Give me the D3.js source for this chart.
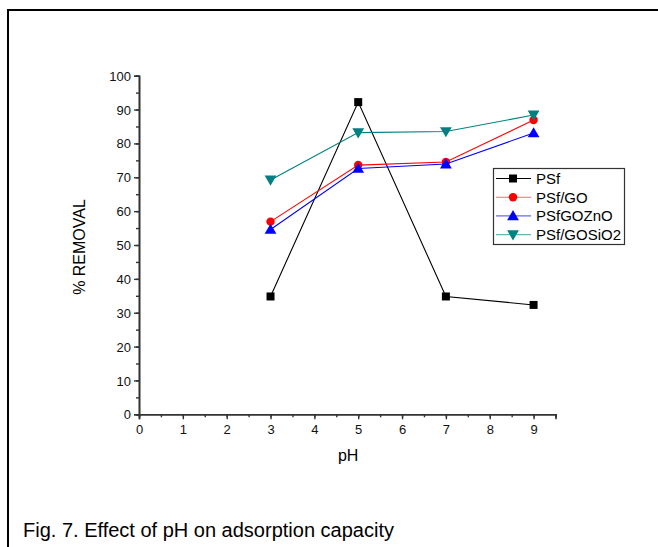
<!DOCTYPE html>
<html>
<head>
<meta charset="utf-8">
<script src="https://cdn.jsdelivr.net/npm/d3@7"></script>
<style>
  body { margin: 0; background: #fff; }
  svg text { font-family: "Liberation Sans", Arial, sans-serif; }
</style>
</head>
<body>
<div id="chart"></div>
<script>
var phValues = [3, 5, 7, 9];
var seriesNames = ["PSf", "PSf/GO", "PSfGOZnO", "PSf/GOSiO2"];
var psf = [34.8, 92.2, 34.8, 32.3];
var psfGO = [56.9, 73.6, 74.5, 86.9];
var psfGOZnO = [54.6, 72.6, 73.9, 83.1];
var psfGOSiO2 = [69.2, 83.2, 83.5, 88.4];
var xTicks = [0, 1, 2, 3, 4, 5, 6, 7, 8, 9];
var yTicks = [0, 10, 20, 30, 40, 50, 60, 70, 80, 90, 100];

var colors = ["#000000", "#ff0000", "#0000ff", "#008080"];
var symbols = [d3.symbolSquare, d3.symbolCircle, d3.symbolTriangle, "down"];

var series = seriesNames.map(function (name, i) {
  var vals = [psf, psfGO, psfGOZnO, psfGOSiO2][i];
  return {
    name: name,
    color: colors[i],
    symbol: symbols[i],
    points: phValues.map(function (p, j) { return { x: p, y: vals[j] }; })
  };
});

var W = 658, H = 547;
var svg = d3.select("#chart").append("svg")
  .attr("width", W).attr("height", H);

// page frame (open at right and bottom like the source)
svg.append("path")
  .attr("d", "M8," + H + " V10 H" + W)
  .attr("fill", "none")
  .attr("stroke", "#000")
  .attr("stroke-width", 2);

var x = d3.scaleLinear().domain([0, 9.5]).range([139, 555.5]);
var y = d3.scaleLinear().domain([0, 100]).range([414.3, 75.7]);

// minor ticks
var xAxisMinor = d3.axisBottom(x).tickValues(d3.range(0, 9.51, 0.5)).tickSize(3).tickFormat("");
var yAxisMinor = d3.axisLeft(y).tickValues(d3.range(0, 100.1, 5)).tickSize(3).tickFormat("");

var gxm = svg.append("g").attr("transform", "translate(0," + y(0) + ")").call(xAxisMinor);
var gym = svg.append("g").attr("transform", "translate(" + x(0) + ",0)").call(yAxisMinor);

var xAxis = d3.axisBottom(x).tickValues(xTicks).tickSize(5).tickPadding(5).tickFormat(d3.format("d"));
var yAxis = d3.axisLeft(y).tickValues(yTicks).tickSize(5).tickPadding(3).tickFormat(d3.format("d"));

var gx = svg.append("g").attr("transform", "translate(0," + y(0) + ")").call(xAxis);
var gy = svg.append("g").attr("transform", "translate(" + x(0) + ",0)").call(yAxis);

[gxm, gym, gx, gy].forEach(function (g) {
  g.selectAll("path.domain").attr("stroke", "#333").attr("stroke-width", 1.6);
  g.selectAll(".tick line").attr("stroke", "#333").attr("stroke-width", 1.4);
  g.selectAll("text").attr("fill", "#111").style("font-size", "13px");
});
gy.selectAll("text").attr("dy", "0.35em");

// axis titles
svg.append("text")
  .attr("x", x(5) - 10).attr("y", 461)
  .attr("text-anchor", "middle")
  .style("font-size", "16px")
  .text("pH");

svg.append("text")
  .attr("transform", "translate(85,247) rotate(-90)")
  .attr("text-anchor", "middle")
  .style("font-size", "16px")
  .text("% REMOVAL");

var line = d3.line().x(function (d) { return x(d.x); }).y(function (d) { return y(d.y); });

function drawMarker(g, s, cx, cy) {
  if (s.symbol === "down") {
    g.append("path")
      .attr("d", d3.symbol().type(d3.symbolTriangle).size(60)())
      .attr("transform", "translate(" + cx + "," + (cy - 1) + ") rotate(180)")
      .attr("fill", s.color);
  } else {
    var size = s.symbol === d3.symbolSquare ? 64 : (s.symbol === d3.symbolCircle ? 56 : 60);
    var dy = s.symbol === d3.symbolTriangle ? 1 : 0;
    g.append("path")
      .attr("d", d3.symbol().type(s.symbol).size(size)())
      .attr("transform", "translate(" + cx + "," + (cy + dy) + ")")
      .attr("fill", s.color);
  }
}

series.forEach(function (s) {
  var g = svg.append("g");
  g.append("path")
    .datum(s.points)
    .attr("d", line)
    .attr("fill", "none")
    .attr("stroke", s.color)
    .attr("stroke-width", 1.1);
  s.points.forEach(function (p) {
    drawMarker(g, s, x(p.x), y(p.y));
  });
});

// legend
var lg = svg.append("g");
lg.append("rect")
  .attr("x", 493.5).attr("y", 168.5)
  .attr("width", 131).attr("height", 76)
  .attr("fill", "#fff")
  .attr("stroke", "#333")
  .attr("stroke-width", 1.2);

series.forEach(function (s, i) {
  var ry = 178.5 + i * 18.7;
  lg.append("line")
    .attr("x1", 496).attr("x2", 531)
    .attr("y1", ry).attr("y2", ry)
    .attr("stroke", s.color)
    .attr("stroke-opacity", i === 0 ? 1 : 0.6)
    .attr("stroke-width", 1.1);
  drawMarker(lg, s, 513, ry);
  lg.append("text")
    .attr("x", 536).attr("y", ry + 5.5)
    .style("font-size", "15px")
    .attr("fill", "#000")
    .text(s.name);
});

// caption
svg.append("text")
  .attr("x", 23).attr("y", 537)
  .style("font-size", "20px")
  .attr("fill", "#000")
  .text("Fig. 7. Effect of pH on adsorption capacity");
</script>
</body>
</html>
